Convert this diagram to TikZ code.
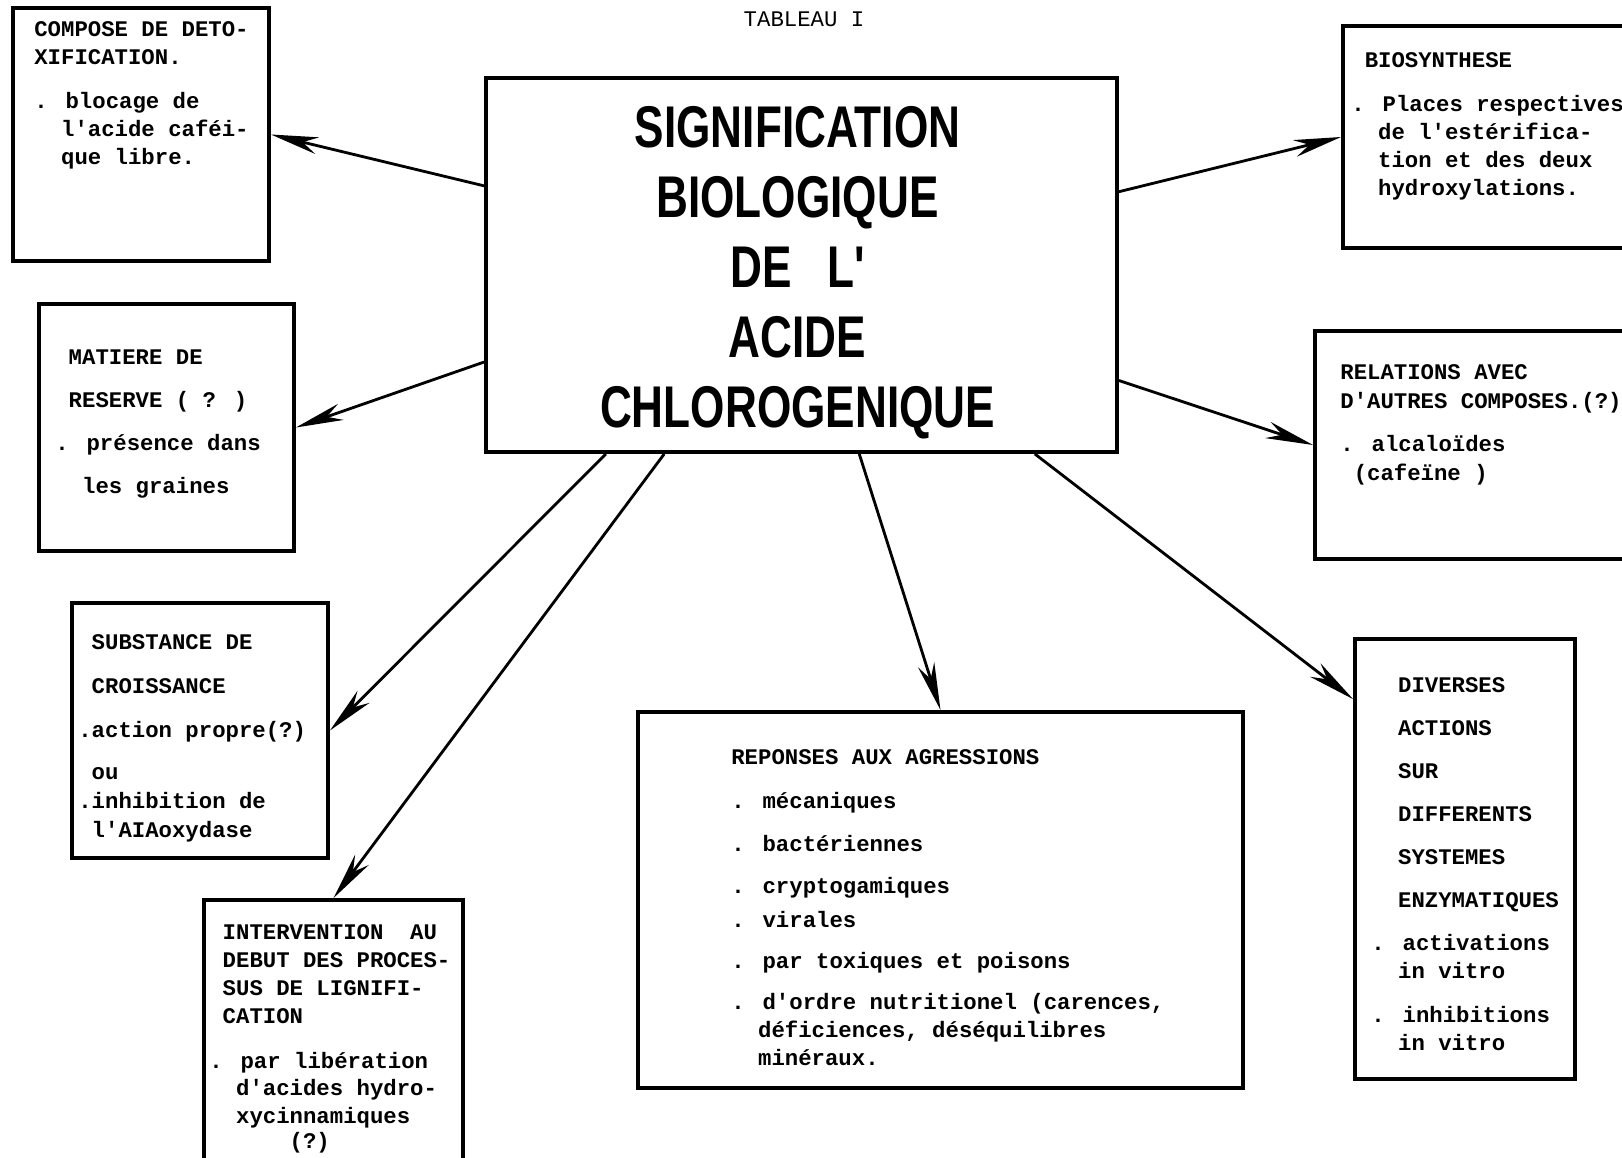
\documentclass[tikz,border=0pt]{standalone}
\usepackage{fontspec}
\usetikzlibrary{arrows.meta}
\newfontfamily\tapefont{Liberation Mono}
\newfontfamily\titrefont[FakeStretch=0.75]{Liberation Sans}
\newcommand\tapesize[1]{\tapefont\bfseries\fontsize{12.7}{#1}\selectfont}

\tikzset{
  cadre/.style={draw, line width=2.2pt, inner sep=0pt},
  texte/.style={anchor=north west, align=left, inner sep=0pt, font=\tapesize{15.9}},
  fleche/.style={line width=1.6pt, -{Stealth[length=0.95cm, width=0.34cm, inset=0.3cm]}},
}

\begin{document}
\begin{tikzpicture}
\useasboundingbox (0,0) rectangle (32.44,-23.16);

%title
\node (tableau) at (16.08,-0.38) {\tapefont\fontsize{12.7}{15.9}\selectfont TABLEAU I};

%central box
\node[cadre, minimum width=12.62cm, minimum height=7.48cm] (signif) at (16.03,-5.30) {};
\node[align=center, inner sep=0pt, font=\titrefont\bfseries\fontsize{33.5}{39.8}\selectfont]
  (signiftxt) at (15.95,-5.46)
  {SIGNIFICATION\\BIOLOGIQUE\\DE\hspace{0.6em}L'\\ACIDE\\CHLOROGENIQUE};

%boxes
\node[cadre, minimum width=5.12cm, minimum height=5.06cm] (compose) at (2.82,-2.69) {};
\node[cadre, minimum width=5.94cm, minimum height=4.44cm] (biosynth) at (29.83,-2.74) {};
\node[cadre, minimum width=6.50cm, minimum height=4.56cm] (relations) at (29.55,-8.90) {};
\node[cadre, minimum width=5.10cm, minimum height=4.94cm] (matiere) at (3.33,-8.55) {};
\node[cadre, minimum width=5.12cm, minimum height=5.10cm] (substance) at (4.00,-14.61) {};
\node[cadre, minimum width=5.18cm, minimum height=5.40cm] (intervention) at (6.67,-20.70) {};
\node[cadre, minimum width=12.10cm, minimum height=7.52cm] (reponses) at (18.81,-18.00) {};
\node[cadre, minimum width=4.40cm, minimum height=8.80cm] (diverses) at (29.30,-17.18) {};

%texts
\node[texte] (composetxt) at (0.68,-0.42)
  {COMPOSE DE DETO-\\XIFICATION.\\[0.32cm]
   . blocage de\\~~l'acide caféi-\\~~que libre.};
\node[texte] (biosynthtxt) at (27.02,-1.04)
  {~BIOSYNTHESE\\[0.32cm]
   . Places respectives\\~~de l'estérifica-\\~~tion et des deux\\~~hydroxylations.};
\node[texte, font=\tapesize{16.5}] (relationstxt) at (26.80,-7.28)
  {RELATIONS AVEC\\D'AUTRES COMPOSES.(?)\\[0.28cm]
   . alcaloïdes\\~(cafeïne~)};
\node[texte, font=\tapesize{24.5}] (matieretxt) at (1.10,-6.98)
  {~MATIERE DE\\~RESERVE ( ? )\\. présence dans\\~~les graines};
\node[texte, font=\tapesize{16.5}] (substancetxt) at (1.56,-12.68)
  {~SUBSTANCE DE\\[0.30cm]~CROISSANCE\\[0.30cm]
   .action propre(?)\\[0.26cm]~ou\\.inhibition de\\~l'AIAoxydase};
\node[texte] (interventiontxt) at (4.18,-18.48)
  {~INTERVENTION~~AU\\~DEBUT DES PROCES-\\~SUS DE LIGNIFI-\\~CATION\\[0.34cm]
   . par libération\\~~d'acides hydro-\\~~xycinnamiques\\[-0.06cm]~~~~~~(?)};
\node[texte] (reponsestxt) at (14.62,-14.98)
  {REPONSES AUX AGRESSIONS\\[0.32cm]
   . mécaniques\\[0.30cm]
   . bactériennes\\[0.28cm]
   . cryptogamiques\\[0.12cm]
   . virales\\[0.28cm]
   . par toxiques et poisons\\[0.26cm]
   . d'ordre nutritionel (carences,\\~~déficiences, déséquilibres\\~~minéraux.};
\node[texte] (diversestxt) at (27.42,-13.54)
  {~~DIVERSES\\[0.30cm]~~ACTIONS\\[0.30cm]~~SUR\\[0.30cm]~~DIFFERENTS\\[0.30cm]
   ~~SYSTEMES\\[0.32cm]~~ENZYMATIQUES\\[0.30cm]
   . activations\\~~in vitro\\[0.32cm]. inhibitions\\~~in vitro};

%arrows
\draw[fleche] (signif.166.3) -- (compose.east);
\draw[fleche] (signif.197.9) -- (matiere.east);
\draw[fleche] (signif.224.3) -- (substance.east);
\draw[fleche] (signif.234.3) -- (intervention.north);
\draw[fleche] (signif.287.1) -- (reponses.north);
\draw[fleche] (signif.321.5) -- (diverses.125.2);
\draw[fleche] (signif.13.2) -- (biosynth.west);
\draw[fleche] (signif.340.3) -- (relations.west);
\end{tikzpicture}
\end{document}
